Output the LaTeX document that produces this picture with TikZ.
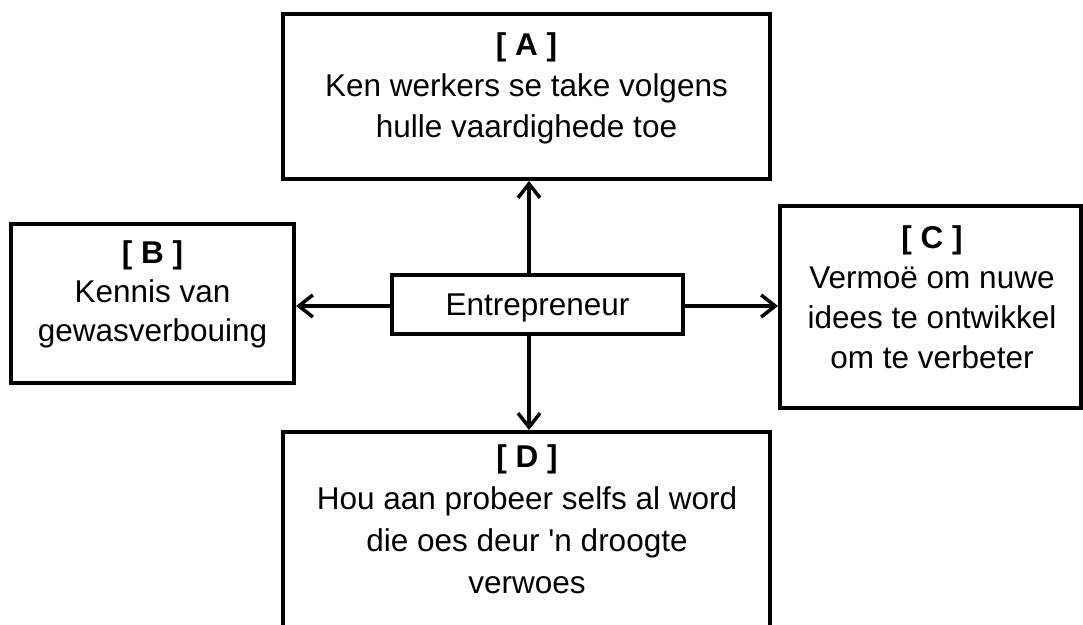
\documentclass[tikz,border=0pt]{standalone}
\usepackage{fontspec}
\setmainfont{Liberation Sans}[Ligatures=TeXOff]
\usetikzlibrary{arrows.meta}
\begin{document}
\begin{tikzpicture}[x=1pt,y=-1pt,
  box/.style={draw, line width=4pt, rectangle, inner sep=0pt},
  txt/.style={anchor=north, align=center, inner sep=0pt,
    font=\fontsize{31.5}{#1}\selectfont, execute at begin node=\strut},
  conn/.style={line width=3.5pt, -{Straight Barb[length=14pt,width=22pt]}}
]
\useasboundingbox (0,0) rectangle (1083,624);
\clip (0,0) rectangle (1083,624);
\fill[white] (0,0) rectangle (1083,624);

% boxes
\node[box, minimum width=487pt, minimum height=165pt] (A) at (526.5,96.5) {};
\node[box, minimum width=283pt, minimum height=159pt] (B) at (152.5,303.5) {};
\node[box, minimum width=301pt, minimum height=202pt] (C) at (930.5,307) {};
\node[box, minimum width=487pt, minimum height=228pt] (D) at (526.5,546) {};
\node[box, line width=3.5pt, minimum width=291pt, minimum height=59pt,
      font=\fontsize{31.5}{40}\selectfont, text height=22pt, text depth=0pt] (E) at (537.5,304.5) {Entrepreneur};

% texts
\node[txt=41] (tA) at (526.5,32.3) {\textbf{[ A ]}\\Ken werkers se take volgens\\hulle vaardighede toe};
\node[txt=39] (tB) at (152.5,240.7) {\textbf{[ B ]}\\Kennis van\\gewasverbouing};
\node[txt=40] (tC) at (932,225) {\textbf{[ C ]}\\Vermoë om nuwe\\idees te ontwikkel\\om te verbeter};
\node[txt=42] (tD) at (527,444.6) {\textbf{[ D ]}\\Hou aan probeer selfs al word\\die oes deur 'n droogte\\verwoes};

% connectors
\coordinate (vx) at (529,0);
\draw[conn] (vx |- E.north) -- (vx |- A.south);
\draw[conn] (vx |- E.south) -- (vx |- D.north);
\draw[conn] (E.west |- 0,306) -- (B.east |- 0,306);
\draw[conn] (E.east |- 0,306) -- (C.west |- 0,306);
\end{tikzpicture}
\end{document}
